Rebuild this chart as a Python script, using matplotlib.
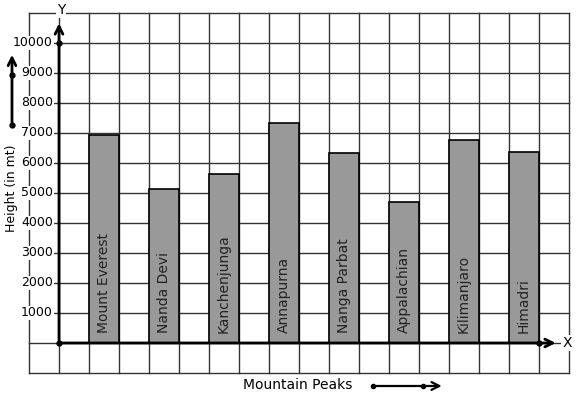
import matplotlib.pyplot as plt

peaks = ["Mount Everest", "Nanda Devi", "Kanchenjunga", "Annapurna",
         "Nanga Parbat", "Appalachian", "Kilimanjaro", "Himadri"]
heights = [6930, 5120, 5650, 7320, 6320, 4690, 6760, 6360]
tick_values = [1000, 2000, 3000, 4000, 5000, 6000, 7000, 8000, 9000, 10000]

fig = plt.figure(figsize=(5.77, 3.99), dpi=100)
ax = fig.add_axes([0, 0, 1, 1])
ax.set_xlim(-59 / 30, 518 / 30)
ax.set_ylim(-56 / 30 * 1000, 343 / 30 * 1000)
ax.axis("off")

grid = "#333333"
# graph paper grid
for gx in range(-1, 18):
    ax.plot([gx, gx], [-1000, 11000], color=grid, lw=1.0, zorder=1)
for gy in range(-1000, 12000, 1000):
    ax.plot([-1, 17], [gy, gy], color=grid, lw=1.0, zorder=1)

# bars, each two cells apart
xs = [1.5 + 2 * i for i in range(len(peaks))]
ax.bar(xs, heights, width=1, color="#999999", edgecolor="black",
       linewidth=1.2, zorder=2)
for x, name in zip(xs, peaks):
    ax.text(x, 330, name, rotation=90, ha="center", va="bottom",
            fontsize=10, color="#222222", zorder=3)

# y tick labels over the grid
for v in tick_values:
    ax.text(-0.2, v, str(v), ha="right", va="center", fontsize=9, zorder=4,
            bbox=dict(facecolor="white", edgecolor="none", pad=0.5))

# axes with arrows
ax.annotate("", xy=(0, 10750), xytext=(0, 0),
            arrowprops=dict(arrowstyle="->", lw=2, color="black",
                            mutation_scale=14), zorder=5)
ax.annotate("", xy=(16.65, 0), xytext=(0, 0),
            arrowprops=dict(arrowstyle="->", lw=2, color="black",
                            mutation_scale=14), zorder=5)
ax.plot([0, 0, 16.0], [0, 10000, 0], "o", color="black", ms=3.5, zorder=6)
ax.text(16.93, 0, "X", ha="center", va="center", fontsize=10,
        bbox=dict(facecolor="white", edgecolor="none", pad=0.5), zorder=6)
ax.text(0.07, 11100, "Y", ha="center", va="center", fontsize=10,
        bbox=dict(facecolor="white", edgecolor="none", pad=0.5), zorder=6)

# side arrow with axis title
ax.annotate("", xy=(-1.567, 9700), xytext=(-1.567, 7267),
            arrowprops=dict(arrowstyle="->", lw=2, color="black",
                            mutation_scale=14))
ax.plot([-1.567, -1.567], [7267, 8933], "o", color="black", ms=3.5)
ax.text(-1.567, 5167, "Height (in mt)", rotation=90, ha="center",
        va="center", fontsize=9)

# bottom arrow with axis title
ax.text(7.97, -1400, "Mountain Peaks", ha="center", va="center", fontsize=10)
ax.annotate("", xy=(12.85, -1433), xytext=(10.47, -1433),
            arrowprops=dict(arrowstyle="->", lw=1.6, color="black",
                            mutation_scale=14))
ax.plot([10.47, 12.13], [-1433, -1433], "o", color="black", ms=3)

plt.savefig("out.png", dpi=100)
